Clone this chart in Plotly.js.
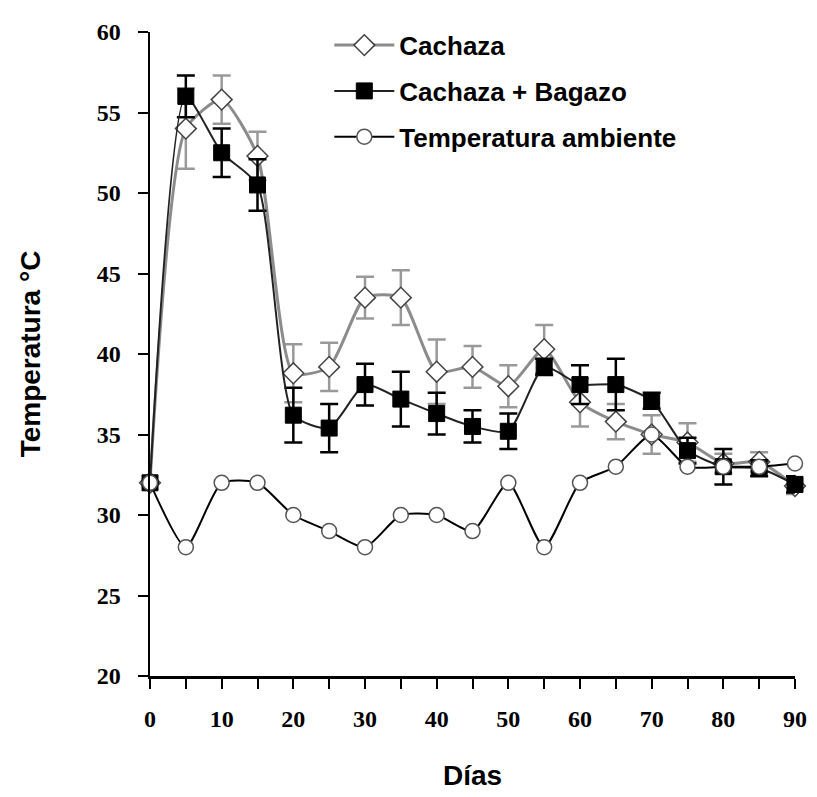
<!DOCTYPE html>
<html>
<head>
<meta charset="utf-8">
<script src="https://cdn.plot.ly/plotly-3.0.1.min.js"></script>
<style>body{margin:0;background:#fff}#chart{width:817px;height:797px}</style>
</head>
<body>
<div id="chart"></div>
<script>
const dias = [0,5,10,15,20,25,30,35,40,45,50,55,60,65,70,75,80,85,90];
const cachaza = [32,54,55.8,52.3,38.8,39.2,43.5,43.5,38.9,39.2,38,40.3,37,35.8,35,34.5,33.2,33.3,31.8];
const cachazaErr = [0,2.5,1.5,1.5,1.8,1.5,1.3,1.7,2,1.3,1.3,1.5,1.5,1.1,1.2,1.2,0.6,0.6,0.5];
const bagazo = [32,56,52.5,50.5,36.2,35.4,38.1,37.2,36.3,35.5,35.2,39.2,38.1,38.1,37.1,34,33,32.9,31.9];
const bagazoErr = [0,1.3,1.5,1.6,1.7,1.5,1.3,1.7,1.3,1.0,1.1,0.5,1.2,1.6,0.5,0.8,1.1,0.5,0.5];
const ambiente = [32,28,32,32,30,29,28,30,30,29,32,28,32,33,35,33,33,33,33.2];
const nombres = ['Cachaza','Cachaza + Bagazo','Temperatura ambiente'];

const traces = [
  {x:dias, y:cachaza, name:nombres[0], legendgroup:'a', type:'scatter', mode:'lines+markers', cliponaxis:false,
   line:{color:'#8c8c8c', width:3, shape:'spline', smoothing:0.6},
   marker:{symbol:'diamond', size:16, color:'#ffffff', line:{color:'#444', width:1.5}},
   error_y:{type:'data', array:cachazaErr, visible:true, color:'#999', thickness:2.5, width:9}},
  {x:dias, y:bagazo, name:nombres[1], legendgroup:'b', type:'scatter', mode:'lines+markers', cliponaxis:false,
   line:{color:'#222', width:2, shape:'spline', smoothing:0.6},
   marker:{symbol:'square', size:16, color:'#000', line:{color:'#000', width:1}},
   error_y:{type:'data', array:bagazoErr, visible:true, color:'#000', thickness:2.5, width:9}},
  {x:dias, y:ambiente, name:nombres[2], legendgroup:'c', type:'scatter', mode:'lines+markers', cliponaxis:false,
   line:{color:'#000', width:2, shape:'spline', smoothing:0.6},
   marker:{symbol:'circle', size:15, color:'#ffffff', line:{color:'#555', width:1.5}}}
];

const layout = {
  width:817, height:797,
  margin:{l:150, r:22, t:32, b:121},
  paper_bgcolor:'#fff', plot_bgcolor:'#fff',
  showlegend:true,
  legend:{x:0.278, y:1.016, xanchor:'left', yanchor:'top', bgcolor:'rgba(0,0,0,0)',
    font:{family:'Liberation Sans, Arial', size:26, color:'#000', weight:'bold'},
    tracegroupgap:9, itemwidth:60},
  xaxis:{range:[0,90], dtick:10, tick0:0, showgrid:false, zeroline:false,
    showline:true, linecolor:'#000', linewidth:2.5,
    ticks:'outside', ticklen:10, tickwidth:2, tickcolor:'#000', ticklabelstandoff:10,
    minor:{dtick:5, ticks:'outside', ticklen:10, tickwidth:2, tickcolor:'#000', showgrid:false},
    tickfont:{family:'Liberation Serif, Times New Roman', size:24, color:'#000', weight:'bold'},
    title:{text:'Días', font:{family:'Liberation Sans, Arial', size:28, color:'#000', weight:'bold'}, standoff:34}},
  yaxis:{range:[20,60], dtick:5, showgrid:false, zeroline:false,
    showline:true, linecolor:'#000', linewidth:2.5,
    ticks:'outside', ticklen:10, tickwidth:2, tickcolor:'#000', ticklabelstandoff:12,
    tickfont:{family:'Liberation Serif, Times New Roman', size:24, color:'#000', weight:'bold'},
    title:{text:'Temperatura °C', font:{family:'Liberation Sans, Arial', size:28, color:'#000', weight:'bold'}, standoff:48}}
};

Plotly.newPlot('chart', traces, layout, {displayModeBar:false, staticPlot:true});
</script>
</body>
</html>
